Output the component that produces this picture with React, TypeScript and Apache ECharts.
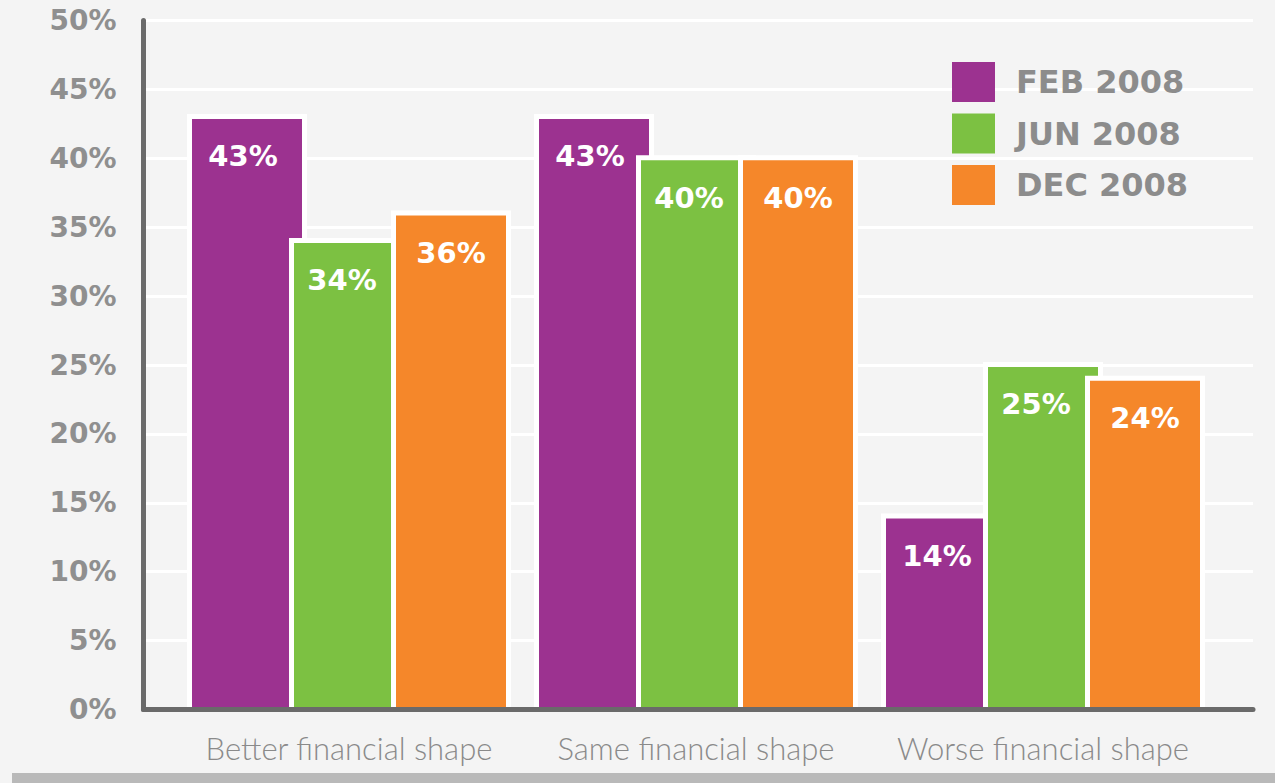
import React, { useEffect, useRef } from "react";
import * as echarts from "echarts";

const categories = ["Better financial shape", "Same financial shape", "Worse financial shape"];
const seriesNames = ["FEB 2008", "JUN 2008", "DEC 2008"];
const feb2008 = [43, 43, 14];
const jun2008 = [34, 40, 25];
const dec2008 = [36, 40, 24];
const yTicks = { min: 0, max: 50, interval: 5 };

const colors = ["#9c3290", "#7cc142", "#f5872a"];

export default function App() {
  const ref = useRef<HTMLDivElement>(null);
  useEffect(() => {
    if (!ref.current) return;
    const chart = echarts.init(ref.current, undefined, { renderer: "svg" });
    const values = [feb2008, jun2008, dec2008];
    const labelShift = [-4, -7, 0];
    chart.setOption({
      animation: false,
      backgroundColor: "#f4f4f4",
      grid: [
        { left: 143.5, right: 22, top: 20.5, bottom: 73.5 },
        { left: 175.5, right: 58.5, top: 20.5, bottom: 71 },
      ],
      legend: {
        orient: "vertical",
        left: 952,
        top: 62,
        padding: 0,
        itemWidth: 43,
        itemHeight: 40,
        itemGap: 11.5,
        icon: "rect",
        data: seriesNames,
        itemStyle: { borderWidth: 0 },
        textStyle: {
          color: "#8c8c8c",
          fontFamily: "DejaVu Sans",
          fontWeight: "bold",
          fontSize: 32,
          padding: [6, 0, 0, 16],
        },
      },
      xAxis: [
        {
          type: "category",
          gridIndex: 0,
          data: categories,
          z: 10,
          axisLine: { show: true, lineStyle: { color: "#6a6a6a", width: 5 } },
          axisTick: { show: false },
          axisLabel: { show: false },
          splitLine: { show: false },
        },
        {
          type: "category",
          gridIndex: 1,
          data: categories,
          axisLine: { show: false },
          axisTick: { show: false },
          axisLabel: {
            interval: 0,
            color: "#8a8a8a",
            fontFamily: "Lato",
            fontWeight: 300,
            fontSize: 31,
            margin: 20,
          },
        },
      ],
      yAxis: [
        {
          type: "value",
          gridIndex: 0,
          min: yTicks.min,
          max: yTicks.max,
          interval: yTicks.interval,
          axisLine: { show: true, lineStyle: { color: "#6a6a6a", width: 5 } },
          axisTick: { show: false },
          axisLabel: {
            formatter: "{value}%",
            color: "#8f8f8f",
            fontFamily: "DejaVu Sans",
            fontWeight: "bold",
            fontSize: 28,
            margin: 27,
          },
          splitLine: { show: true, lineStyle: { color: "#ffffff", width: 3 } },
        },
        {
          type: "value",
          gridIndex: 1,
          min: -0.4,
          max: 49.78,
          startValue: -0.4,
          show: false,
          splitLine: { show: false },
        },
      ],
      series: seriesNames.map((name, i) => ({
        name,
        type: "bar",
        xAxisIndex: 1,
        yAxisIndex: 1,
        data: values[i],
        barWidth: 120,
        barGap: "-15%",
        itemStyle: { color: colors[i], borderColor: "#ffffff", borderWidth: 5 },
        label: {
          show: true,
          position: "insideTop",
          distance: 28,
          offset: [labelShift[i], 0],
          formatter: "{c}%",
          color: "#ffffff",
          fontFamily: "DejaVu Sans",
          fontWeight: "bold",
          fontSize: 29,
          lineHeight: 29,
        },
      })),
      graphic: [
        {
          type: "rect",
          shape: { x: 12, y: 773, width: 1263, height: 10 },
          style: { fill: "#b9b9b9" },
          z: 100,
        },
      ],
    });
    return () => chart.dispose();
  }, []);
  return (
    <div
      ref={ref}
      style={{ position: "absolute", left: 0, top: 0, width: 1275, height: 783 }}
    />
  );
}
